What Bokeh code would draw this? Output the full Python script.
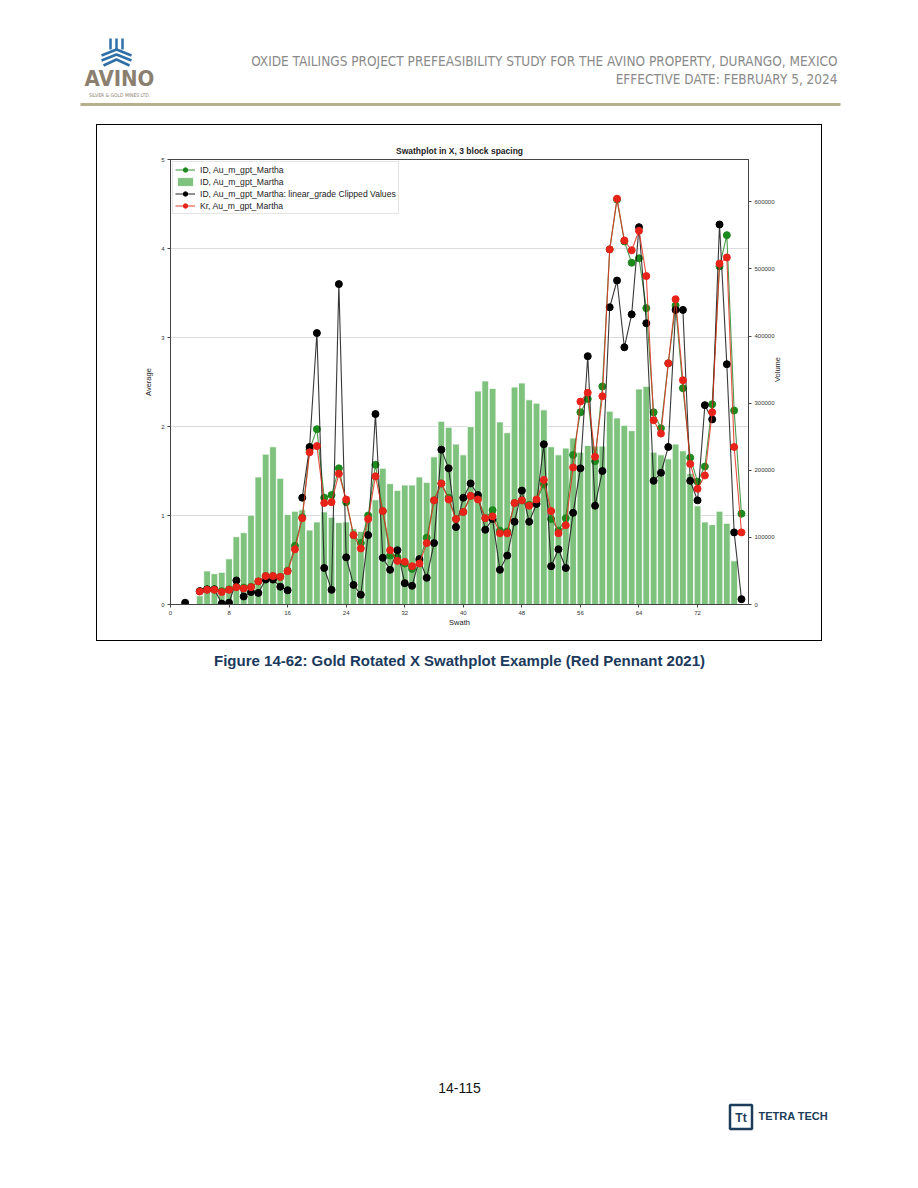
import math
from bokeh.plotting import figure
from bokeh.models import (Range1d, LinearAxis, FixedTicker, NumeralTickFormatter,
                          Legend, LegendItem, Spacer)
from bokeh.layouts import column, row
from bokeh.embed import file_html
from bokeh.resources import INLINE
from bokeh.core.properties import value

NaN = float("nan")

# ---------------- data ----------------
swath = list(range(2, 79))

id_grade = [NaN, NaN, 0.15, 0.17, 0.17, 0.15, 0.17, 0.20, 0.19, 0.20,
            0.26, 0.32, 0.32, 0.31, 0.38, 0.66, 0.98, 1.74, 1.97, 1.20,
            1.23, 1.53, 1.15, 0.78, 0.69, 1.00, 1.57, 1.05, 0.55, 0.53,
            0.46, 0.40, 0.49, 0.75, 1.17, 1.36, 1.20, 0.96, 1.04, 1.22,
            1.20, 0.97, 1.06, 0.83, 0.82, 1.14, 1.17, 1.12, 1.16, 1.35,
            0.96, 0.83, 0.97, 1.68, 2.16, 2.31, 1.61, 2.45, 3.99, 4.55,
            4.08, 3.84, 3.89, 3.33, 2.16, 1.98, 2.71, 3.36, 2.43, 1.65,
            1.38, 1.55, 2.25, 3.80, 4.15, 2.18, 1.02]

clipped = [0.02, NaN, 0.15, 0.17, 0.17, 0.01, 0.02, 0.27, 0.09, 0.14,
           0.13, 0.28, 0.28, 0.20, 0.16, NaN, 1.20, 1.77, 3.05, 0.41,
           0.165, 3.60, 0.53, 0.22, 0.11, 0.78, 2.14, 0.525, 0.39, 0.61,
           0.24, 0.21, 0.51, 0.30, 0.69, 1.74, 1.53, 0.87, 1.20, 1.36,
           1.23, 0.84, 0.96, 0.39, 0.55, 0.93, 1.28, 0.93, 1.13, 1.80,
           0.43, 0.62, 0.41, 1.03, 1.53, 2.79, 1.11, 1.50, 3.34, 3.64,
           2.89, 3.26, 4.24, 3.16, 1.39, 1.48, 1.77, 3.31, 3.31, 1.39,
           1.17, 2.24, 2.08, 4.27, 2.70, 0.81, 0.06]

kr_grade = [NaN, NaN, 0.146, 0.165, 0.165, 0.14, 0.165, 0.195, 0.18, 0.195,
            0.26, 0.32, 0.32, 0.31, 0.375, 0.62, 0.97, 1.71, 1.78, 1.14,
            1.15, 1.47, 1.18, 0.78, 0.63, 0.96, 1.44, 1.05, 0.61, 0.49,
            0.48, 0.43, 0.46, 0.69, 1.17, 1.36, 1.18, 0.96, 1.04, 1.22,
            1.18, 0.97, 0.99, 0.80, 0.80, 1.14, 1.17, 1.11, 1.18, 1.40,
            1.05, 0.80, 0.89, 1.54, 2.28, 2.38, 1.66, 2.34, 3.99, 4.56,
            4.09, 3.98, 4.20, 3.69, 2.07, 1.92, 2.71, 3.43, 2.52, 1.58,
            1.30, 1.45, 2.16, 3.83, 3.90, 1.77, 0.81]

bar_swath = list(range(4, 78))
volume = [13000, 50000, 46000, 48000, 68000, 101000, 107000, 133000, 190000, 224000,
          235000, 188000, 134000, 139000, 141000, 111000, 123000, 138000, 130000, 122000,
          123000, 113000, 109000, 134000, 156000, 203000, 180000, 170000, 178000, 178000,
          190000, 182000, 220000, 273000, 264000, 239000, 223000, 265000, 318000, 333000,
          322000, 272000, 256000, 324000, 330000, 305000, 300000, 290000, 235000, 223000,
          233000, 248000, 227000, 237000, 236000, 236000, 288000, 278000, 267000, 259000,
          321000, 325000, 227000, 223000, 217000, 239000, 229000, 195000, 147000, 123000,
          119000, 139000, 121000, 65000]

x_ticks = [0, 8, 16, 24, 32, 40, 48, 56, 64, 72]
y_ticks = [0, 1, 2, 3, 4, 5]
vol_ticks = [0, 100000, 200000, 300000, 400000, 500000, 600000]

chart_title = "Swathplot in X, 3 block spacing"
legend_labels = ["ID, Au_m_gpt_Martha", "ID, Au_m_gpt_Martha",
                 "ID, Au_m_gpt_Martha: linear_grade Clipped Values", "Kr, Au_m_gpt_Martha"]
header_line1 = "OXIDE TAILINGS PROJECT PREFEASIBILITY STUDY FOR THE AVINO PROPERTY, DURANGO, MEXICO"
header_line2 = "EFFECTIVE DATE: FEBRUARY 5, 2024"
caption = "Figure 14-62: Gold Rotated X Swathplot Example (Red Pennant 2021)"
page_no = "14-115"

FONT = "Liberation Sans"
COND = "'DejaVu Sans Condensed', 'Liberation Sans', sans-serif"

# ---------------- chart ----------------
p = figure(width=724, height=515, x_range=Range1d(0, 78.96), y_range=Range1d(0, 5),
           output_backend="svg", toolbar_location=None,
           min_border_left=73, min_border_right=73, min_border_top=34, min_border_bottom=36,
           title=chart_title)
p.extra_y_ranges = {"vol": Range1d(0, 663000)}

bars = p.vbar(x=bar_swath, top=volume, bottom=0, width=0.92, y_range_name="vol",
              fill_color="#7ec27e", line_color="white", line_width=0.8)
g_line = p.line(swath, id_grade, line_color="#2a8a2a", line_width=1.1, line_alpha=0.85)
g_sc = p.scatter(swath, id_grade, size=7, fill_color="#1d8a1d", line_color="#1d8a1d")
k_line = p.line(swath, clipped, line_color="#151515", line_width=1.1, line_alpha=0.85)
k_sc = p.scatter(swath, clipped, size=7, fill_color="black", line_color="black")
r_line = p.line(swath, kr_grade, line_color="#e0301e", line_width=1.1, line_alpha=0.85)
r_sc = p.scatter(swath, kr_grade, size=7, fill_color="#e8231a", line_color="#e8231a")

p.title.align = "center"
p.title.text_font = FONT
p.title.text_font_size = "8.5px"
p.title.text_font_style = "bold"
p.title.text_color = "#222222"
p.title.standoff = 8

p.xgrid.visible = False
p.ygrid.grid_line_color = "#dcdcdc"
p.ygrid.grid_line_width = 1
p.outline_line_color = "#444444"
p.outline_line_width = 1

left_ax = p.left[0]
bottom_ax = p.below[0]
left_ax.ticker = FixedTicker(ticks=y_ticks)
bottom_ax.ticker = FixedTicker(ticks=x_ticks)
left_ax.axis_label = "Average"
bottom_ax.axis_label = "Swath"
right_ax = LinearAxis(y_range_name="vol", ticker=FixedTicker(ticks=vol_ticks),
                      formatter=NumeralTickFormatter(format="0"), axis_label="Volume")
p.add_layout(right_ax, "right")

for ax in (left_ax, bottom_ax, right_ax):
    ax.major_label_text_font = FONT
    ax.major_label_text_font_size = "6px"
    ax.major_label_text_color = "#333333"
    ax.axis_label_text_font = FONT
    ax.axis_label_text_font_size = "7.5px"
    ax.axis_label_text_font_style = "normal"
    ax.axis_label_text_color = "#222222"
    ax.major_tick_out = 3
    ax.major_tick_in = 0
    ax.minor_tick_out = 0
    ax.minor_tick_in = 0
    ax.axis_line_color = "#444444"
    ax.major_tick_line_color = "#444444"
    ax.major_label_standoff = 3
left_ax.axis_label_standoff = 5
bottom_ax.axis_label_standoff = 0
right_ax.axis_label_standoff = 0
right_ax.axis_label_orientation = math.pi / 2

legend = Legend(items=[
    LegendItem(label=legend_labels[0], renderers=[g_line, g_sc]),
    LegendItem(label=legend_labels[1], renderers=[bars]),
    LegendItem(label=legend_labels[2], renderers=[k_line, k_sc]),
    LegendItem(label=legend_labels[3], renderers=[r_line, r_sc]),
], location="top_left")
legend.label_text_font = FONT
legend.label_text_font_size = "8.6px"
legend.label_text_color = "#222222"
legend.glyph_width = 20
legend.glyph_height = 11
legend.label_height = 11
legend.label_standoff = 5
legend.spacing = 1
legend.padding = 2
legend.margin = 2
legend.border_line_color = "#cccccc"
legend.border_line_width = 1
legend.background_fill_alpha = 0.9
p.add_layout(legend)


# ---------------- page parts ----------------
def page_fig(w, h, y_top, y_bottom):
    f = figure(width=w, height=h, x_range=Range1d(0, w), y_range=Range1d(y_bottom, y_top),
               output_backend="svg", toolbar_location=None, min_border=0,
               x_axis_type=None, y_axis_type=None)
    f.grid.visible = False
    f.outline_line_color = None
    return f


header = page_fig(910, 116, 0, 116)
# logo icon
header.segment(x0=[110, 116, 122], y0=[38, 38, 38], x1=[110, 116, 122], y1=[49, 49, 49],
               line_color="#2f6fa8", line_width=2.5)
header.multi_line(xs=[[101, 116, 131], [101, 116, 131], [103, 116, 129]],
                  ys=[[55, 49, 55], [60, 54, 60], [65, 59, 65]],
                  line_color="#2f6fa8", line_width=2.5)
header.text(x=[119], y=[78], text=["AVINO"], text_align="center", text_baseline="middle",
            text_font=value(COND), text_font_size="22px", text_font_style="bold",
            text_color="#8b7f70")
header.text(x=[119], y=[94], text=["SILVER & GOLD MINES LTD."], text_align="center",
            text_baseline="middle", text_font=value(COND), text_font_size="5px",
            text_color="#8b7f70")
header.text(x=[837], y=[60], text=[header_line1], text_align="right", text_baseline="middle",
            text_font=value(COND), text_font_size="13.5px", text_color="#8a8a8a")
header.text(x=[837], y=[78], text=[header_line2], text_align="right", text_baseline="middle",
            text_font=value(COND), text_font_size="13.5px", text_color="#8a8a8a")
header.segment(x0=[80], y0=[104], x1=[840], y1=[104], line_color="#b8b08c", line_width=3)

footer = page_fig(910, 539, 641, 1180)
footer.text(x=[459], y=[660], text=[caption], text_align="center", text_baseline="middle",
            text_font=value(FONT), text_font_size="15px", text_font_style="bold",
            text_color="#1b3a5c")
footer.text(x=[459], y=[1087], text=[page_no], text_align="center", text_baseline="middle",
            text_font=value(FONT), text_font_size="14px", text_color="#111111")
footer.rect(x=[740.5], y=[1116.5], width=22, height=24, fill_color="white",
            line_color="#1c3c5a", line_width=2.5)
footer.text(x=[740.5], y=[1117], text=["Tt"], text_align="center", text_baseline="middle",
            text_font=value(FONT), text_font_size="12px", text_font_style="bold",
            text_color="#1c3c5a")
footer.text(x=[758], y=[1115], text=["TETRA TECH"], text_align="left", text_baseline="middle",
            text_font=value(FONT), text_font_size="11px", text_font_style="bold",
            text_color="#1c3c5a")

BLACK = {"background-color": "#000000"}
chart_box = column(
    Spacer(width=726, height=1, styles=BLACK),
    row(Spacer(width=1, height=515, styles=BLACK), p, Spacer(width=1, height=515, styles=BLACK)),
    Spacer(width=726, height=1, styles=BLACK),
)

layout = column(
    header,
    Spacer(width=910, height=8),
    row(Spacer(width=96, height=517), chart_box, Spacer(width=88, height=517)),
    footer,
)

open("out.html", "w").write(file_html(layout, INLINE))
